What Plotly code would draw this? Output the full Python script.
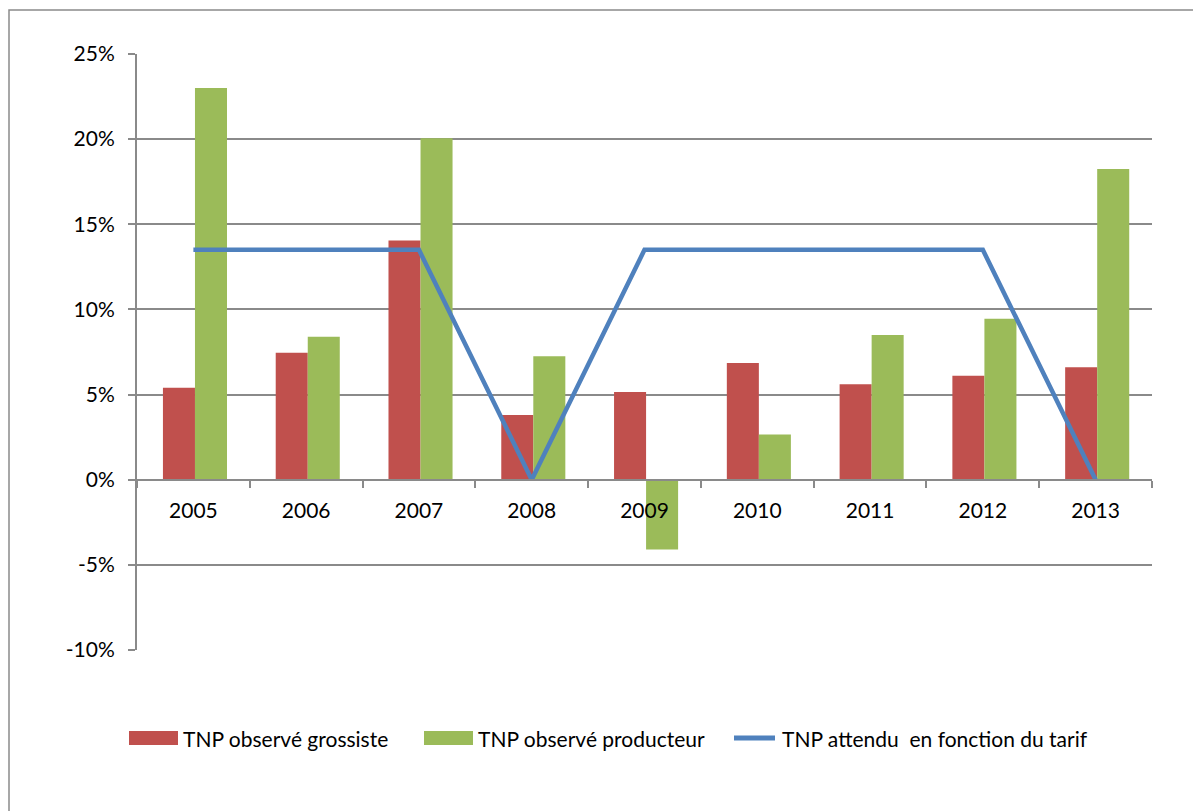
import plotly.graph_objects as go

years = ["2005", "2006", "2007", "2008", "2009", "2010", "2011", "2012", "2013"]
grossiste = [5.4, 7.45, 14.05, 3.8, 5.15, 6.85, 5.6, 6.1, 6.6]
producteur = [23.0, 8.4, 20.05, 7.25, -4.1, 2.65, 8.5, 9.45, 18.25]
attendu = [13.5, 13.5, 13.5, 0.0, 13.5, 13.5, 13.5, 13.5, 0.0]

y_tickvals = [-10, -5, 0, 5, 10, 15, 20, 25]
y_ticktext = ["-10%", "-5%", "0%", "5%", "10%", "15%", "20%", "25%"]

names = ["TNP observé grossiste", "TNP observé producteur", "TNP attendu  en fonction du tarif"]
colors = ["#C0504D", "#9BBB59", "#4F81BD"]

FONT = "Lato"
FS = 21
GRID = "#8a8a8a"
BAR_W = 0.284

fig = go.Figure()
fig.add_trace(go.Bar(x=years, y=grossiste, name=names[0], width=BAR_W, offset=-0.27,
                     marker=dict(color=colors[0], line=dict(width=0))))
fig.add_trace(go.Bar(x=years, y=producteur, name=names[1], width=BAR_W, offset=0.014,
                     marker=dict(color=colors[1], line=dict(width=0))))
fig.add_trace(go.Scatter(x=years, y=attendu, name=names[2], mode="lines",
                         line=dict(color=colors[2], width=4.5)))

# page body has an 8px margin; figure is sized to fit inside the window
OFF = 8
W, H = 1201 - OFF, 811 - OFF
L, T = 137 - OFF, 54 - OFF
pw, ph = 1015, 596
R, B = W - L - pw, H - T - ph
yr = [-10, 25]
zero_pos = (0 - yr[0]) / (yr[1] - yr[0])


def px(xs):  # screen x -> paper x
    return (xs - 137) / pw


def py(ys):  # screen y -> paper y
    return (650 - ys) / ph


shapes = [dict(type="rect", xref="paper", yref="paper",
               x0=px(9), x1=px(1198), y0=py(830), y1=py(10),
               line=dict(color=GRID, width=1.5), fillcolor="rgba(0,0,0,0)", layer="below")]
annotations = []

# custom legend (Excel style swatches)
leg_y = 738
leg_items = [(129, 49, "bar"), (424, 49, "bar"), (732, 45, "line")]
for (x0, w, kind), name, col in zip(leg_items, names, colors):
    if kind == "bar":
        shapes.append(dict(type="rect", xref="paper", yref="paper",
                           x0=px(x0), x1=px(x0 + w), y0=py(leg_y + 7), y1=py(leg_y - 7),
                           fillcolor=col, line=dict(width=0)))
    else:
        shapes.append(dict(type="line", xref="paper", yref="paper",
                           x0=px(x0 + 2), x1=px(x0 + w - 2), y0=py(leg_y), y1=py(leg_y),
                           line=dict(color=col, width=5)))
    annotations.append(dict(xref="paper", yref="paper", x=px(x0 + w + 3), y=py(leg_y),
                            xanchor="left", yanchor="middle", text=name, showarrow=False,
                            font=dict(family=FONT, size=FS, color="black")))

fig.update_layout(
    width=W, height=H,
    margin=dict(l=L, r=R, t=T, b=B, pad=0),
    paper_bgcolor="white", plot_bgcolor="white",
    font=dict(family=FONT, size=FS, color="black"),
    barmode="group", bargap=0.433, bargroupgap=0,
    showlegend=False,
    xaxis=dict(type="category", range=[-0.5, 8.5], anchor="free", position=zero_pos,
               showline=True, linecolor=GRID, linewidth=2,
               ticks="outside", ticklen=7, tickcolor=GRID, tickwidth=2,
               tickson="boundaries", showgrid=False, zeroline=False,
               tickfont=dict(family=FONT, size=FS), ticklabelstandoff=12),
    yaxis=dict(range=yr, tickvals=y_tickvals, ticktext=y_ticktext,
               showline=True, linecolor=GRID, linewidth=2,
               ticks="outside", ticklen=7, tickcolor=GRID, tickwidth=2,
               showgrid=True, gridcolor=GRID, gridwidth=2, zeroline=False,
               tickfont=dict(family=FONT, size=FS), ticklabelstandoff=9),
    shapes=shapes,
    annotations=annotations,
)

fig.write_html("out.html")
